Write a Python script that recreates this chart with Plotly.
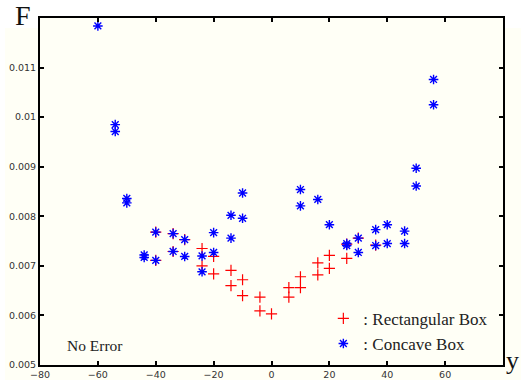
import plotly.graph_objects as go

# Rectangular box (red +)
rect_x = [-40, -40, -34, -34, -30, -24, -24, -20, -20, -14, -14, -10, -10, -4, -4, 0,
          6, 6, 10, 10, 16, 16, 20, 20, 26, 26, 30, 36]
rect_y = [0.00768, 0.00711, 0.00765, 0.00729, 0.00753, 0.00735, 0.00700, 0.00719, 0.00684,
          0.00691, 0.00660, 0.00672, 0.00640, 0.00637, 0.00609, 0.00603,
          0.00656, 0.00637, 0.00678, 0.00656, 0.00706, 0.00682, 0.00721, 0.00695,
          0.00744, 0.00715, 0.00756, 0.00742]

# Concave box (blue *)
conc_x = [-60, -54, -54, -50, -50, -44, -44, -40, -40, -34, -34, -30, -30, -24, -24,
          -20, -20, -14, -14, -10, -10, 10, 10, 16, 20, 26, 26, 30, 30, 36, 36,
          40, 40, 46, 46, 50, 50, 56, 56]
conc_y = [0.01184, 0.00985, 0.00971, 0.00836, 0.00827, 0.00722, 0.00717, 0.00768, 0.00711,
          0.00765, 0.00729, 0.00753, 0.00719, 0.00720, 0.00688, 0.00767, 0.00727,
          0.00802, 0.00756, 0.00847, 0.00796, 0.00854, 0.00821, 0.00834, 0.00783,
          0.00745, 0.00741, 0.00756, 0.00727, 0.00773, 0.00741, 0.00783, 0.00745,
          0.00770, 0.00745, 0.00897, 0.00861, 0.01076, 0.01025]

x_ticks = [-80, -60, -40, -20, 0, 20, 40, 60]
y_ticks = [0.005, 0.006, 0.007, 0.008, 0.009, 0.010, 0.011]
y_ticktext = ["0.005", "0.006", "0.007", "0.008", "0.009", "0.01", "0.011"]

CREAM = "#fffff6"

fig = go.Figure()
fig.add_trace(go.Scatter(
    x=rect_x, y=rect_y, mode="markers", name=": Rectangular Box",
    marker=dict(symbol="cross-thin-open", size=8, color="#ff0000",
                line=dict(color="#ff0000", width=1.2)),
))
fig.add_trace(go.Scatter(
    x=conc_x, y=conc_y, mode="markers", name=": Concave Box",
    marker=dict(symbol="asterisk-open", size=8, color="#0000ff",
                line=dict(color="#0000ff", width=1.4)),
))

axis_common = dict(
    showgrid=False, zeroline=False, showline=True, linecolor="black", linewidth=2,
    mirror="ticks", ticks="inside", ticklen=4, tickwidth=1.5, tickcolor="black",
    tickfont=dict(family="DejaVu Sans", size=9.5, color="#333333"),
    automargin=False,
)

fig.update_layout(
    width=521, height=388,
    margin=dict(l=40, r=18, t=18, b=23),
    paper_bgcolor="white",
    plot_bgcolor=CREAM,
    showlegend=True,
    legend=dict(
        x=0.612, y=0.097, xanchor="left", yanchor="middle",
        bgcolor="rgba(0,0,0,0)", borderwidth=0,
        font=dict(family="Liberation Serif", size=17, color="#222222"),
        itemwidth=30, tracegroupgap=4,
    ),
    xaxis=dict(range=[-80, 80], tickvals=x_ticks, **axis_common),
    yaxis=dict(range=[0.005, 0.012], tickvals=y_ticks, ticktext=y_ticktext, **axis_common),
    shapes=[dict(type="rect", xref="paper", yref="paper", x0=-0.0756, x1=1.039,
                 y0=-0.043, y1=0.971, fillcolor=CREAM, line=dict(width=0), layer="below")],
    annotations=[
        dict(text="No Error", xref="x", yref="y", x=-71.4, y=0.0054, showarrow=False,
             xanchor="left", yanchor="middle",
             font=dict(family="Liberation Serif", size=15.5, color="#222222")),
        dict(text="F", xref="paper", yref="paper", x=-0.0367, y=1.0086, showarrow=False,
             xanchor="center", yanchor="middle",
             font=dict(family="Liberation Serif", size=28, color="#111111")),
        dict(text="y", xref="paper", yref="paper", x=1.0389, y=0.014, showarrow=False,
             xanchor="right", yanchor="middle",
             font=dict(family="Liberation Serif", size=26, color="#111111")),
    ],
)

fig.write_html("out.html", config={"displayModeBar": False},
               post_script="document.body.style.margin='0px';")
